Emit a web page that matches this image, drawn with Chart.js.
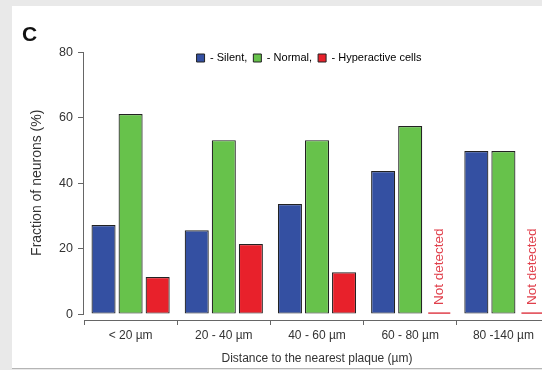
<!DOCTYPE html>
<html>
<head>
<meta charset="utf-8">
<script src="https://cdn.jsdelivr.net/npm/chart.js@4"></script>
<style>
  html, body { margin: 0; padding: 0; width: 542px; height: 370px; overflow: hidden; background: #e9e9e9; }
  #panel { position: absolute; left: 12px; top: 6px; width: 560px; height: 362px; background: #ffffff; border-bottom: 1px solid #b5b5b5; }
  #wrap { position: absolute; left: 0; top: 0; width: 560px; height: 370px; }
  #letter { position: absolute; left: 22px; top: 22px; font: bold 21px "Liberation Sans", Arial, sans-serif; color: #111; }
</style>
</head>
<body>
<div id="panel"></div>
<div id="wrap"><canvas id="c" width="560" height="370"></canvas></div>
<div id="letter">C</div>
<script>
const categories = ['< 20 µm', '20 - 40 µm', '40 - 60 µm', '60 - 80 µm', '80 -140 µm'];
const seriesNames = ['Silent', 'Normal', 'Hyperactive cells'];
const silent = [27.2, 25.6, 33.6, 43.7, 49.8];
const normal = [61.1, 53.1, 53.1, 57.4, 49.8];
const hyperactive = [11.3, 21.4, 12.8, null, null];
const yTicks = [0, 20, 40, 60, 80];
const notDetectedText = 'Not detected';
const yTitle = 'Fraction of neurons (%)';
const xTitle = 'Distance to the nearest plaque (µm)';

const FONT = '"Liberation Sans", Arial, sans-serif';
const AXIS = '#666666';
const TEXT = '#333333';
const LEGEND_PAD = 6;

const extras = {
  id: 'extras',
  afterLayout(chart) {
    // place the legend inside the top of the plot area
    const l = chart.legend;
    if (l) {
      const d = chart.chartArea.top - l.top + 1;
      l.top += d;
      l.bottom += d;
      l.left -= 8;
      l.right -= 8;
    }
  },
  afterDraw(chart) {
    const ctx = chart.ctx;
    const y = chart.scales.y;
    ctx.save();
    ctx.strokeStyle = AXIS;
    ctx.lineWidth = 1;
    ctx.beginPath();
    const xl = Math.round(y.right) - 0.5;
    ctx.moveTo(xl, y.getPixelForValue(yTicks[0]));
    ctx.lineTo(xl, y.getPixelForValue(yTicks[yTicks.length - 1]));
    ctx.stroke();
    const meta = chart.getDatasetMeta(2);
    const y0 = y.getPixelForValue(0);
    hyperactive.forEach((v, i) => {
      if (v !== null) return;
      const el = meta.data[i];
      const cx = el.x;
      const w = el.width || 24;
      ctx.strokeStyle = '#e0404c';
      ctx.lineWidth = 1.5;
      ctx.beginPath();
      ctx.moveTo(cx - w / 2 + 3, y0 - 1);
      ctx.lineTo(cx + w / 2 + 1, y0 - 1);
      ctx.stroke();
      ctx.save();
      ctx.translate(cx + 2, y0 - 9);
      ctx.rotate(-Math.PI / 2);
      ctx.fillStyle = '#e0404c';
      ctx.font = '13.5px ' + FONT;
      ctx.textAlign = 'left';
      ctx.textBaseline = 'middle';
      ctx.fillText(notDetectedText, 0, 0);
      ctx.restore();
    });
    ctx.restore();
  }
};

const colors = ['#3450a2', '#67c24b', '#e8212b'];
const dataSets = [silent, normal, hyperactive];

new Chart(document.getElementById('c'), {
  type: 'bar',
  data: {
    labels: categories,
    datasets: dataSets.map((d, i) => ({
      label: seriesNames[i],
      data: d,
      backgroundColor: colors[i],
      borderColor: '#222222',
      borderWidth: 1.2,
      borderSkipped: false,
      categoryPercentage: 0.871,
      barPercentage: 0.889
    }))
  },
  options: {
    responsive: false,
    animation: false,
    devicePixelRatio: 1,
    layout: { padding: { left: 25, top: 45.5 - (11 + LEGEND_PAD + 10), right: 10, bottom: 0 } },
    plugins: {
      tooltip: { enabled: false },
      legend: {
        position: 'top',
        align: 'center',
        fullSize: false,
        labels: {
          boxWidth: 8,
          boxHeight: 8,
          padding: LEGEND_PAD,
          color: TEXT,
          font: { family: FONT, size: 11 },
          generateLabels(chart) {
            return chart.data.datasets.map((ds, i) => ({
              text: '- ' + ds.label + (i < seriesNames.length - 1 ? ',' : ''),
              fillStyle: ds.backgroundColor,
              strokeStyle: '#222222',
              lineWidth: 1,
              hidden: false,
              datasetIndex: i
            }));
          }
        }
      }
    },
    scales: {
      x: {
        offset: true,
        afterFit(s) { s.height = 50; },
        grid: { offset: true, drawOnChartArea: false, drawTicks: true, tickLength: 5, color: AXIS },
        border: { display: true, color: AXIS, width: 1 },
        ticks: { color: TEXT, font: { family: FONT, size: 12 }, padding: 3, maxRotation: 0 },
        title: { display: true, text: xTitle, color: TEXT, font: { family: FONT, size: 12 }, padding: { top: 4, bottom: 4 } }
      },
      y: {
        min: -1.8,
        max: 82,
        afterFit(s) { s.width = 59; },
        afterBuildTicks(s) { s.ticks = yTicks.map(v => ({ value: v })); },
        grid: { drawOnChartArea: false, drawTicks: true, tickLength: 6, color: AXIS },
        border: { display: false },
        ticks: { color: TEXT, font: { family: FONT, size: 12.5 }, padding: 5 },
        title: { display: true, text: yTitle, color: TEXT, font: { family: FONT, size: 14 }, padding: { top: 4, bottom: 4 } }
      }
    }
  },
  plugins: [extras]
});
</script>
</body>
</html>
